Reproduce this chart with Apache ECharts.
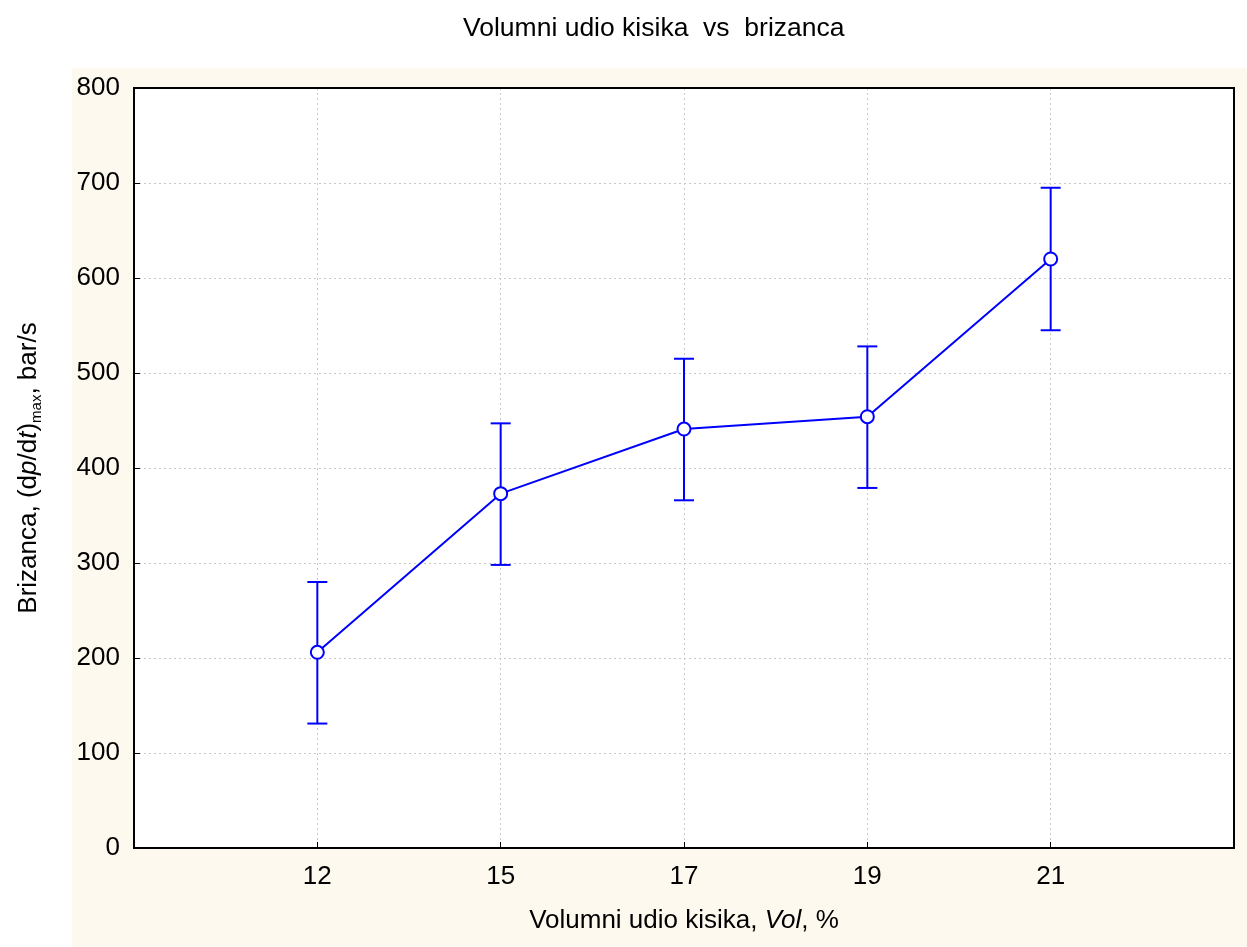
<!DOCTYPE html>
<html>
<head>
<meta charset="utf-8">
<script src="https://cdn.jsdelivr.net/npm/echarts@6/dist/echarts.min.js"></script>
<style>
html,body{margin:0;padding:0;background:#ffffff;}
#chart{width:1247px;height:947px;}
</style>
</head>
<body>
<div id="chart"></div>
<script>
// Data
var categories = ['12', '15', '17', '19', '21'];
var means = [206, 373, 441, 454, 620];
var upper = [280, 447, 515, 528, 695];
var lower = [131, 298, 366, 379, 545];
var yTicks = [0, 100, 200, 300, 400, 500, 600, 700, 800];

var FONT = '"Liberation Sans", Arial, sans-serif';
var chart = echarts.init(document.getElementById('chart'), null, {renderer: 'canvas'});

var lineData = means.map(function (v, i) { return [i + 1, v]; });
var errData = means.map(function (v, i) { return [i + 1, lower[i], upper[i]]; });

var option = {
  animation: false,
  textStyle: {fontFamily: FONT},
  title: {
    text: 'Volumni udio kisika  vs  brizanca',
    left: 458,
    top: 10,
    textStyle: {fontFamily: FONT, fontSize: 26.5, fontWeight: 'normal', color: '#000'}
  },
  graphic: [{
    type: 'rect',
    z: -100,
    silent: true,
    shape: {x: 72, y: 68, width: 1247 - 72, height: 947 - 68},
    style: {fill: '#fdf9ee'}
  }, {
    type: 'rect',
    z: 100,
    silent: true,
    shape: {x: 134, y: 88, width: 1247 - 13 - 134, height: 947 - 99 - 88},
    style: {fill: null, stroke: '#000', lineWidth: 2}
  }],
  grid: {
    left: 134, right: 13, top: 88, bottom: 99,
    show: true,
    backgroundColor: '#ffffff',
    borderColor: '#000',
    borderWidth: 2
  },
  xAxis: {
    type: 'value',
    min: 0, max: 6, interval: 1,
    name: '{n|Volumni udio kisika, }{i|Vol}{n|, %}',
    nameLocation: 'middle',
    nameGap: 60,
    nameTextStyle: {
      rich: {
        n: {fontFamily: FONT, fontSize: 26, color: '#000'},
        i: {fontFamily: FONT, fontSize: 26, fontStyle: 'italic', color: '#000'}
      }
    },
    axisLine: {show: true, lineStyle: {color: '#000', width: 2}},
    axisTick: {show: true, inside: true, length: 6, lineStyle: {color: '#000', width: 1}},
    axisLabel: {
      margin: 16, fontSize: 26, color: '#000', fontFamily: FONT,
      formatter: function (v) { return categories[v - 1] || ''; }
    },
    splitLine: {show: true, showMinLine: false, showMaxLine: false, lineStyle: {color: '#c8c8c8', type: [2, 3], width: 1}}
  },
  yAxis: {
    type: 'value',
    min: yTicks[0], max: yTicks[yTicks.length - 1], interval: 100,
    name: '{n|Brizanca, (d}{i|p}{n|/d}{i|t}{n|)}{s|max}{n|, bar/s}',
    nameLocation: 'middle',
    nameGap: 92,
    nameTextStyle: {
      rich: {
        n: {fontFamily: FONT, fontSize: 26, color: '#000', verticalAlign: 'bottom', lineHeight: 30},
        i: {fontFamily: FONT, fontSize: 26, fontStyle: 'italic', color: '#000', verticalAlign: 'bottom', lineHeight: 30},
        s: {fontFamily: FONT, fontSize: 15, color: '#000', verticalAlign: 'bottom', lineHeight: 30, padding: [0, 0, -2, 0]}
      }
    },
    axisLine: {show: true, lineStyle: {color: '#000', width: 2}},
    axisTick: {show: true, inside: true, length: 6, lineStyle: {color: '#000', width: 1}},
    axisLabel: {margin: 14, fontSize: 26, color: '#000', fontFamily: FONT},
    splitLine: {show: true, showMinLine: false, showMaxLine: false, lineStyle: {color: '#c8c8c8', type: [2, 3], width: 1}}
  },
  series: [
    {
      type: 'custom',
      z: 2,
      data: errData,
      renderItem: function (params, api) {
        var x = api.value(0);
        var lo = api.coord([x, api.value(1)]);
        var hi = api.coord([x, api.value(2)]);
        var hw = 10;
        var st = {stroke: '#0000ff', lineWidth: 2};
        return {
          type: 'group',
          children: [
            {type: 'line', shape: {x1: lo[0], y1: lo[1], x2: hi[0], y2: hi[1]}, style: st},
            {type: 'line', shape: {x1: hi[0] - hw, y1: hi[1], x2: hi[0] + hw, y2: hi[1]}, style: st},
            {type: 'line', shape: {x1: lo[0] - hw, y1: lo[1], x2: lo[0] + hw, y2: lo[1]}, style: st}
          ]
        };
      }
    },
    {
      type: 'line',
      z: 5,
      data: lineData,
      symbol: 'circle',
      symbolSize: 13,
      lineStyle: {color: '#0000ff', width: 2},
      itemStyle: {color: '#ffffff', borderColor: '#0000ff', borderWidth: 2}
    }
  ]
};
chart.setOption(option);
</script>
</body>
</html>
